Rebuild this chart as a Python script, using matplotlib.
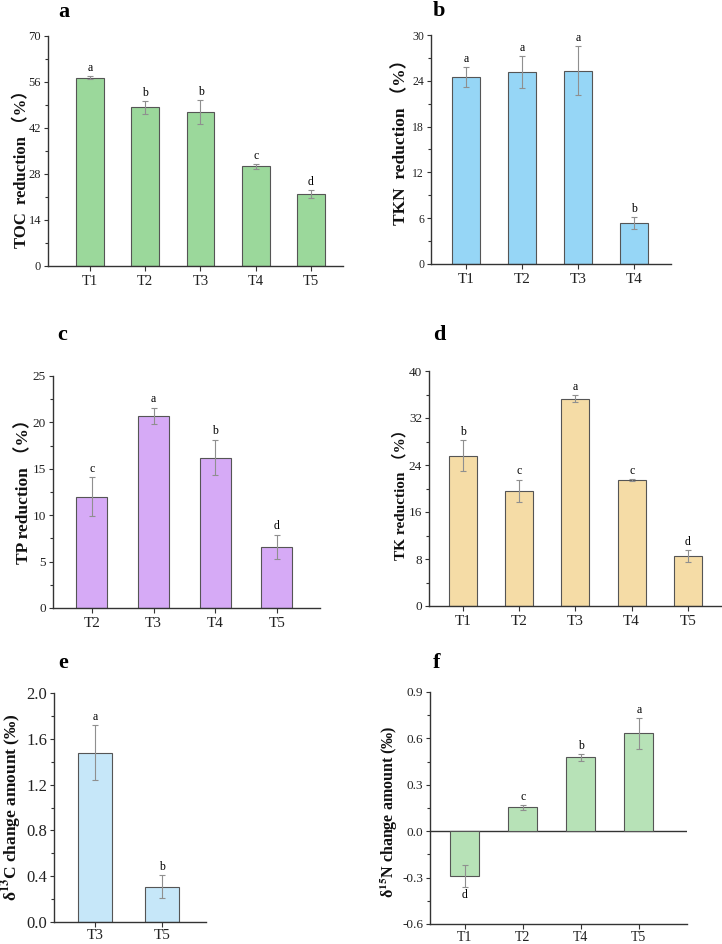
import matplotlib
matplotlib.use('Agg')
import matplotlib.pyplot as plt
from matplotlib.ticker import AutoMinorLocator
import numpy as np

plt.rcParams['font.family'] = ['Liberation Serif', 'Noto Sans CJK SC', 'DejaVu Sans']
plt.rcParams['mathtext.fontset'] = 'stix'

# panel data
toc_groups = ['T1', 'T2', 'T3', 'T4', 'T5']
toc_vals = [57.3, 48.3, 46.8, 30.3, 21.8]
toc_err = [0.4, 1.9, 3.6, 0.7, 1.2]
toc_sig = ['a', 'b', 'b', 'c', 'd']

tkn_groups = ['T1', 'T2', 'T3', 'T4']
tkn_vals = [24.5, 25.1, 25.3, 5.4]
tkn_err = [1.3, 2.1, 3.2, 0.75]
tkn_sig = ['a', 'a', 'a', 'b']

tp_groups = ['T2', 'T3', 'T4', 'T5']
tp_vals = [12.0, 20.7, 16.2, 6.6]
tp_err = [2.1, 0.9, 1.9, 1.3]
tp_sig = ['c', 'a', 'b', 'd']

tk_groups = ['T1', 'T2', 'T3', 'T4', 'T5']
tk_vals = [25.6, 19.6, 35.3, 21.4, 8.5]
tk_err = [2.6, 1.9, 0.6, 0.2, 1.0]
tk_sig = ['b', 'c', 'a', 'c', 'd']

c13_groups = ['T3', 'T5']
c13_vals = [1.48, 0.31]
c13_err = [0.24, 0.10]
c13_sig = ['a', 'b']

n15_groups = ['T1', 'T2', 'T4', 'T5']
n15_vals = [-0.288, 0.155, 0.477, 0.632]
n15_err = [0.07, 0.015, 0.02, 0.10]
n15_sig = ['d', 'c', 'b', 'a']

W, H = 722, 944
fig = plt.figure(figsize=(W / 100, H / 100), dpi=100)


def make_ax(left, right, top, bottom):
    return fig.add_axes([left / W, 1 - bottom / H, (right - left) / W, (bottom - top) / H])


def panel(box, groups, vals, err, sig, color, ylim, yticks, xlim, ylabel, lab_x, lab_y,
          letter, letter_xy, tick_fs=9, xtick_fs=10.5, ylab_fs=11.5, off=0.6, xpad=3):
    ax = make_ax(*box)
    x = np.arange(1, len(groups) + 1)
    ax.bar(x, vals, width=0.5, color=color, edgecolor='#555555', linewidth=0.8, zorder=2)
    ax.errorbar(x, vals, yerr=err, fmt='none', ecolor='#8f8f8f', elinewidth=0.8,
                capsize=2, capthick=0.8, zorder=3)
    for xi, v, e, s in zip(x, vals, err, sig):
        if v >= 0:
            ax.text(xi, v + e + off * 0.25, s, ha='center', va='bottom', fontsize=8.5)
        else:
            ax.text(xi, v - e - off * 0.25, s, ha='center', va='top', fontsize=8.5)
    ax.set_xlim(*xlim)
    ax.set_ylim(*ylim)
    ax.set_yticks(yticks)
    ax.yaxis.set_minor_locator(AutoMinorLocator(2))
    ax.set_xticks(x)
    ax.set_xticklabels(groups, fontsize=xtick_fs)
    ax.tick_params(axis='y', labelsize=tick_fs, length=3, width=0.8, pad=2,
                   color='#333333', labelcolor='#222222')
    ax.tick_params(axis='y', which='minor', length=2, width=0.8, color='#333333')
    ax.tick_params(axis='x', length=3.5, width=0.8, pad=xpad, color='#333333',
                   labelcolor='#222222')
    for sp in ['top', 'right']:
        ax.spines[sp].set_visible(False)
    for sp in ['left', 'bottom']:
        ax.spines[sp].set_linewidth(1.0)
        ax.spines[sp].set_color('#333333')
    fig.text(lab_x / W, 1 - lab_y / H, ylabel, rotation=90, ha='center', va='center',
             fontsize=ylab_fs, fontweight='bold', color='#111111')
    fig.text(letter_xy[0] / W, 1 - letter_xy[1] / H, letter, ha='center', va='center',
             fontsize=16, fontweight='bold')
    return ax


panel((48, 343, 36, 266), toc_groups, toc_vals, toc_err, toc_sig, '#9bd89b',
      (0, 70), [0, 14, 28, 42, 56, 70], (0.24, 5.58), 'TOC  reduction （%）', 22, 165,
      'a', (64, 12), tick_fs=9, xtick_fs=10.5, ylab_fs=12, off=3)

panel((431, 671, 35, 264), tkn_groups, tkn_vals, tkn_err, tkn_sig, '#96d6f6',
      (0, 30), [0, 6, 12, 18, 24, 30], (0.375, 4.66), 'TKN  reduction （%）', 401, 138,
      'b', (439, 11), tick_fs=8.5, xtick_fs=11, ylab_fs=12.5, off=1.3)

panel((53, 320, 376, 608), tp_groups, tp_vals, tp_err, tp_sig, '#d6aaf6',
      (0, 25), [0, 5, 10, 15, 20, 25], (0.37, 4.70), 'TP reduction （%）', 24, 487,
      'c', (62, 335), tick_fs=9.5, xtick_fs=11, ylab_fs=12.5, off=1.1)

panel((429, 721, 371, 606), tk_groups, tk_vals, tk_err, tk_sig, '#f5dca6',
      (0, 40), [0, 8, 16, 24, 32, 40], (0.395, 5.59), 'TK reduction （%）', 400, 491,
      'd', (439, 335), tick_fs=9.5, xtick_fs=11, ylab_fs=11, off=1.6)

ax_e = panel((54, 206, 693, 922), c13_groups, c13_vals, c13_err, c13_sig, '#c6e7f9',
             (0, 2.0), [0, 0.4, 0.8, 1.2, 1.6, 2.0], (0.39, 2.66),
             r'δ$^{\mathbf{13}}$C change amount (‰)', 12, 807,
             'e', (63, 663), tick_fs=12, xtick_fs=11, ylab_fs=12.5, off=0.08, xpad=1.5)
ax_e.yaxis.set_major_formatter(plt.FormatStrFormatter('%.1f'))

ax_f = panel((430, 687, 692, 924), n15_groups, n15_vals, n15_err, n15_sig, '#b7e2b7',
             (-0.6, 0.9), [-0.6, -0.3, 0, 0.3, 0.6, 0.9], (0.40, 4.83),
             r'δ$^{\mathbf{15}}$N change amount (‰)', 389, 812,
             'f', (437, 663), tick_fs=9.5, xtick_fs=10, ylab_fs=11.5, off=0.06, xpad=1.5)
ax_f.yaxis.set_major_formatter(plt.FormatStrFormatter('%.1f'))
ax_f.axhline(0, color='#333333', linewidth=1.0, zorder=1)

fig.savefig('out.png', dpi=100)
